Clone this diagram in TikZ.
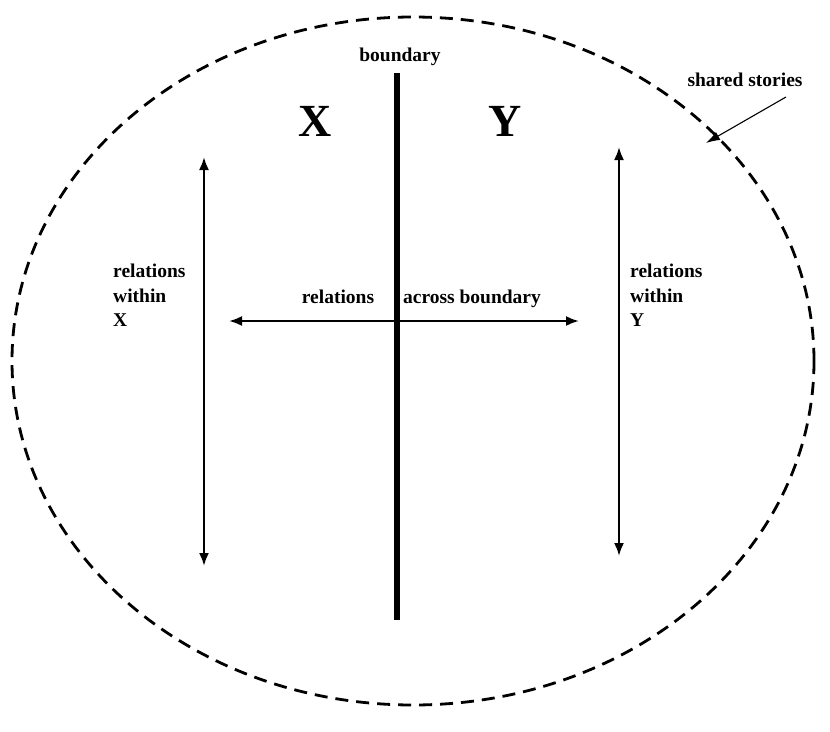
\documentclass[tikz,border=0pt]{standalone}
\usepackage{fontspec}
\setmainfont{Liberation Serif}
\usetikzlibrary{arrows.meta}
\begin{document}
\begin{tikzpicture}[x=1pt,y=-1pt,
  lbl/.style={font=\fontsize{19.5}{22}\selectfont\bfseries, inner sep=0pt},
  big/.style={font=\fontsize{46}{50}\selectfont\bfseries, inner sep=0pt},
  rel/.style={line width=2.2pt, {Latex[length=13pt,width=10pt]}-{Latex[length=13pt,width=10pt]}},
  ptr/.style={line width=1.1pt, -{Latex[length=14pt,width=9pt]}}]
\useasboundingbox[fill=white] (0,0) rectangle (830,731);
% shared stories ellipse
\draw[line width=2.8pt, dash pattern=on 13pt off 8pt] (413,361) ellipse [x radius=401, y radius=344];
% boundary
\coordinate (bt) at (397,73);
\coordinate (bb) at (397,620);
\draw[line width=5.5pt] (bt) -- (bb);
\node[lbl] (boundary) at (400,57) {boundary};
\node[big] (X) at (315,121) {X};
\node[big] (Y) at (505,121) {Y};
% within X
\coordinate (lx1) at (204,157);
\coordinate (lx2) at (204,566);
\draw[rel] (lx1) -- (lx2);
\node[lbl, anchor=north west, align=left, font=\fontsize{19.5}{24.5}\selectfont\bfseries] (wx) at (113,264) {relations\\within\\X};
% within Y
\coordinate (ry1) at (619,147);
\coordinate (ry2) at (619,556);
\draw[rel] (ry1) -- (ry2);
\node[lbl, anchor=north west, align=left, font=\fontsize{19.5}{24.5}\selectfont\bfseries] (wy) at (630,264) {relations\\within\\Y};
% across
\coordinate (h1) at (229,321);
\coordinate (h2) at (579,321);
\draw[rel] (h1) -- (h2);
\node[lbl, anchor=base] (r1) at (338,303) {relations};
\node[lbl, anchor=base] (r2) at (472,303) {across boundary};
% shared stories
\node[lbl] (ss) at (745,80) {shared stories};
\coordinate (sst) at (706,143);
\draw[ptr] (786,97) -- (sst);
\end{tikzpicture}
\end{document}
